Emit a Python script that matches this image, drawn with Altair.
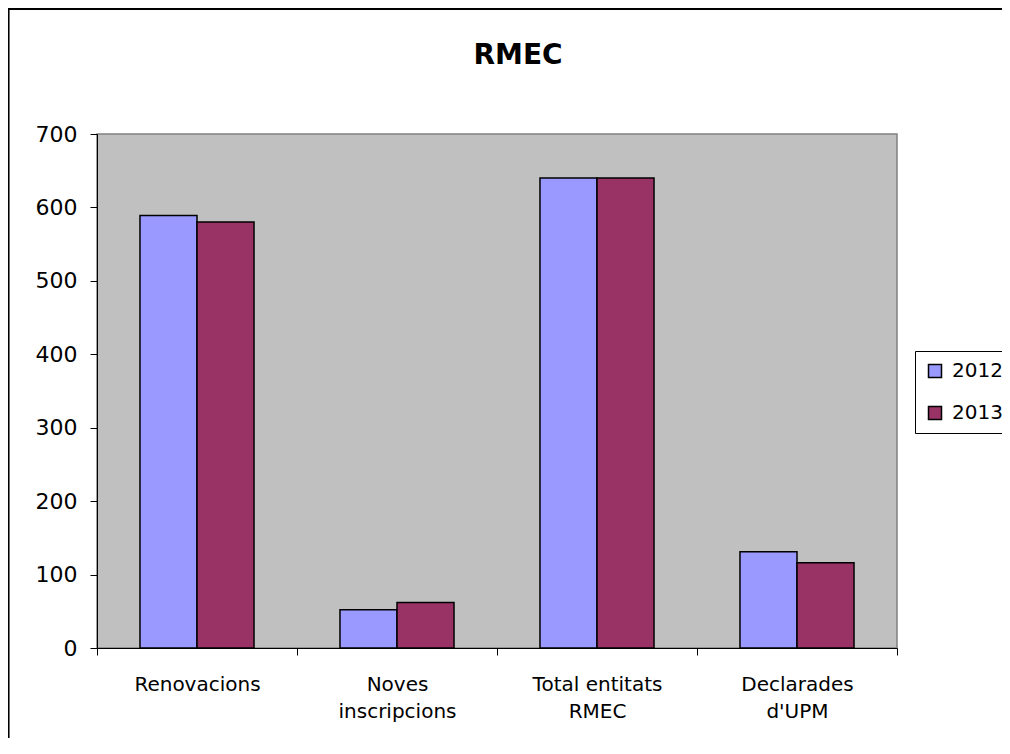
import altair as alt
import pandas as pd

chart_title = "RMEC"
categories = ["Renovacions", "Noves\ninscripcions", "Total entitats\nRMEC", "Declarades\nd'UPM"]
years = ["2012", "2013"]
values_2012 = [589, 52, 640, 131]
values_2013 = [580, 62, 640, 116]
y_ticks = [0, 100, 200, 300, 400, 500, 600, 700]
colors = ["#9999FF", "#993366"]

rows = []
for c, v in zip(categories, values_2012):
    rows.append({"cat": c, "year": "2012", "value": v})
for c, v in zip(categories, values_2013):
    rows.append({"cat": c, "year": "2013", "value": v})
df = pd.DataFrame(rows)

FONT = "DejaVu Sans"

bars = alt.Chart(df).mark_bar(stroke="black", strokeWidth=1.5).encode(
    x=alt.X("cat:N", sort=categories, title=None,
            scale=alt.Scale(paddingInner=0, paddingOuter=0),
            axis=alt.Axis(labelAngle=0, tickBand="extent", tickSize=7, tickColor="black",
                          domainColor="black", labelColor="black", labelFontSize=20,
                          labelFont=FONT, labelPadding=19, labelLineHeight=27,
                          labelExpr="split(datum.label, '\\n')")),
    xOffset=alt.XOffset("year:N", sort=years, scale=alt.Scale(paddingInner=0, paddingOuter=0.754)),
    y=alt.Y("value:Q", title=None, scale=alt.Scale(domain=[0, 700], nice=False),
            axis=alt.Axis(values=y_ticks, grid=False, tickSize=7, tickColor="black",
                          domainColor="black", labelColor="black", labelFontSize=22,
                          labelFont=FONT, labelPadding=13)),
    color=alt.Color("year:N", sort=years, scale=alt.Scale(domain=years, range=colors),
                    legend=alt.Legend(title=None, orient="none", legendX=818, legendY=217,
                                      symbolType="square", symbolSize=169,
                                      symbolStrokeColor="black", symbolStrokeWidth=1.5,
                                      labelFontSize=20, labelFont=FONT, labelColor="black",
                                      labelOffset=7, rowPadding=22, padding=10,
                                      strokeColor="black", fillColor="white")),
)

frame = alt.Chart(df).mark_rect(fill=None, stroke="black", strokeWidth=1.2).encode(
    x=alt.value(-88.5), x2=alt.value(940), y=alt.value(-125), y2=alt.value(700)
)

title_text = alt.Chart(pd.DataFrame({"t": [chart_title]})).mark_text(
    font=FONT, fontSize=28, fontWeight="bold", color="black", align="center", baseline="middle"
).encode(text="t:N", x=alt.value(421), y=alt.value(-78))

chart = alt.layer(frame, bars, title_text).properties(
    width=800, height=514,
    padding={"left": 89, "top": 126, "right": 105, "bottom": 90},
    autosize=alt.AutoSizeParams(type="none"),
    background="white",
).configure_view(fill="#C0C0C0", stroke="#808080", strokeWidth=1.5)

chart.save("out.html", embed_options={"renderer": "svg", "actions": False})
